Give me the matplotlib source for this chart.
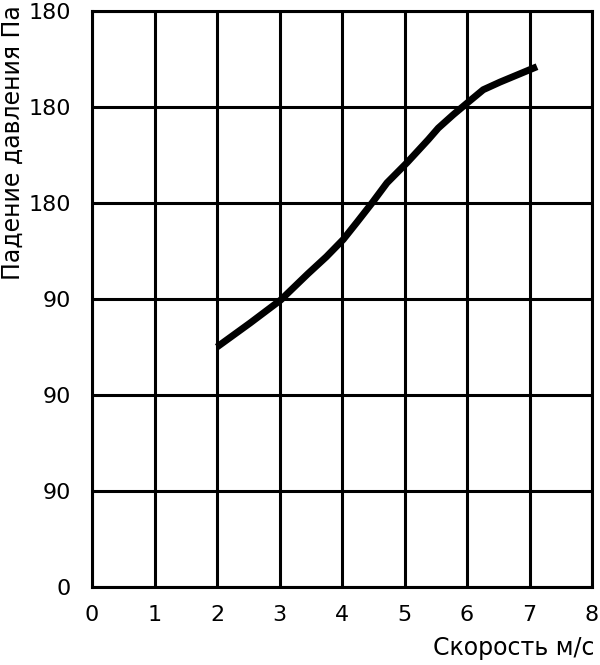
import matplotlib
matplotlib.use("Agg")
import matplotlib.pyplot as plt

plt.rcParams['font.family'] = ['DejaVu Sans']

# data (y in grid units; labels as printed)
speed = [2.0, 2.53, 3.02, 3.45, 3.75, 4.02, 4.24, 4.48, 4.72, 5.04,
         5.38, 5.54, 5.78, 6.0, 6.26, 6.53, 7.12]
pressure = [2.50, 2.75, 2.99, 3.26, 3.44, 3.62, 3.80, 4.0, 4.21, 4.42,
            4.66, 4.78, 4.92, 5.04, 5.18, 5.26, 5.42]
x_ticks = [0, 1, 2, 3, 4, 5, 6, 7, 8]
y_ticks = [0, 1, 2, 3, 4, 5, 6]
y_tick_labels = ['0', '90', '90', '90', '180', '180', '180']
x_label = 'Скорость м/с'
y_label = 'Падение давления Па'

fig = plt.figure(figsize=(6.0, 6.65), dpi=100)
ax = fig.add_axes([92/600, 1-587/665, 500/600, 576/665])

ax.plot(speed, pressure, color='black', linewidth=5, solid_capstyle='butt',
        solid_joinstyle='round', zorder=3)

ax.set_xlim(0, 8)
ax.set_ylim(0, 6)
ax.set_xticks(x_ticks)
ax.set_xticklabels([str(v) for v in x_ticks])
ax.set_yticks(y_ticks)
ax.set_yticklabels(y_tick_labels)
ax.tick_params(length=0, labelsize=16, colors='black')
ax.tick_params(axis='x', pad=13)
ax.tick_params(axis='y', pad=15)
ax.grid(True, color='black', linewidth=2.2)
for s in ax.spines.values():
    s.set_linewidth(2.2)
    s.set_color('black')

ax.set_xlabel(x_label, fontsize=17, loc='right')
ax.xaxis.set_label_coords(1.005, -0.085)
ax.set_ylabel(y_label, fontsize=17, loc='top')
ax.yaxis.set_label_coords(-0.135, 1.01)

fig.savefig('out.png', dpi=100)
